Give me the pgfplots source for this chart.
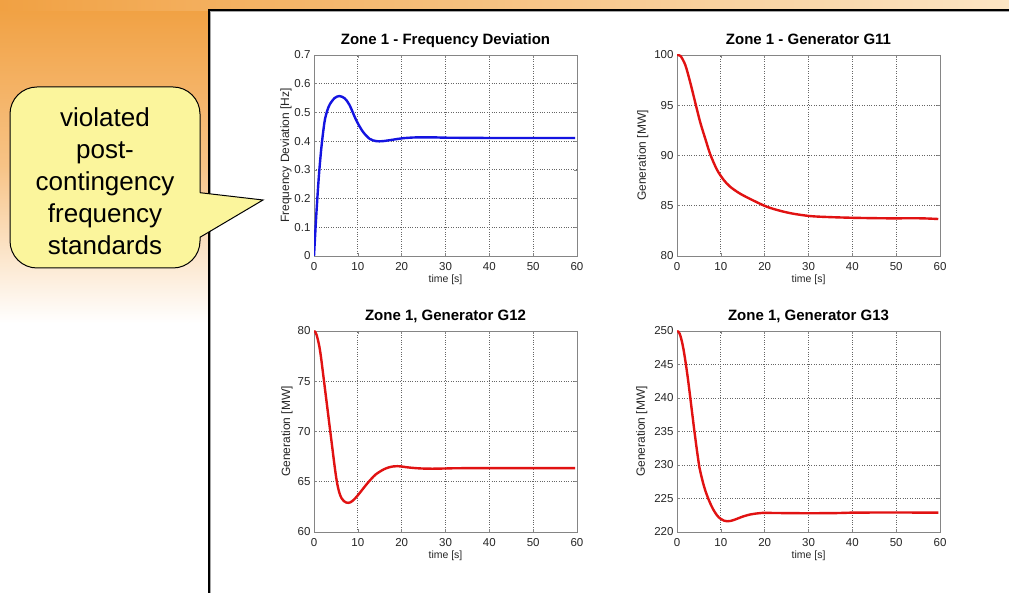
\documentclass[border=0pt]{standalone}
\usepackage{pgfplots}
\pgfplotsset{compat=1.18}
\usepackage{fontspec}
\setmainfont{Liberation Sans}
\definecolor{orA}{HTML}{F1A143}
\definecolor{orB}{HTML}{F7C386}
\definecolor{orR}{HTML}{FCE5C4}
\definecolor{callY}{HTML}{FBF59C}
\definecolor{mblue}{RGB}{20,20,225}
\definecolor{mred}{RGB}{225,18,18}
\definecolor{axgray}{HTML}{858585}

\pgfplotstableread{
t v
0 0
0.5 0.137
1.1 0.276
1.7 0.38
2.4 0.467
3.0 0.505
3.6 0.528
4.7 0.550
5.8 0.557
7.0 0.549
8.1 0.526
9.6 0.474
11.1 0.434
12.7 0.408
14.2 0.400
15.7 0.400
18.0 0.405
20.2 0.410
23.3 0.413
27.8 0.413
30 0.412
40 0.411
50 0.411
59.6 0.411
}\freqdata

\pgfplotstableread{
t v
0 100
0.8 99.9
1.9 99.0
3.0 97.3
4.2 95.2
5.3 93.3
6.5 91.6
7.6 90.1
9.1 88.6
10.6 87.6
12.1 86.9
14.4 86.2
17.5 85.5
20.5 84.9
23.5 84.5
26.6 84.2
30.4 83.97
34.2 83.88
40.2 83.8
47.8 83.75
55.4 83.75
59.6 83.68
}\gelevenData

\pgfplotstableread{
t v
0 80
0.3 79.9
0.6 79.6
0.9 79.1
1.2 78.5
1.5 77.7
1.8 76.7
2.2 75.3
2.6 73.9
3.0 72.5
3.4 71.1
3.8 69.7
4.2 68.3
4.6 66.9
5.0 65.6
5.3 64.8
5.6 64.2
5.9 63.75
6.3 63.35
6.8 63.08
7.3 62.94
7.8 62.9
8.3 62.95
8.8 63.1
9.4 63.35
10.0 63.65
11 64.2
12 64.75
13 65.25
14 65.7
15 66.0
16 66.25
17 66.42
18 66.52
19 66.55
20 66.52
21 66.45
22 66.4
24 66.33
26 66.3
28 66.3
30 66.32
35 66.35
59.6 66.35
}\gtwelveData

\pgfplotstableread{
t v
0 250
0.3 249.9
0.6 249.6
0.9 249.0
1.2 248.2
1.5 247.2
1.8 246.0
2.1 244.7
2.4 243.3
2.7 241.8
3.0 240.2
3.3 238.6
3.6 237.0
3.9 235.4
4.2 233.9
4.5 232.4
4.8 231.0
5.1 229.7
5.5 228.5
6.0 227.2
6.5 226.1
7.0 225.2
7.5 224.4
8.0 223.7
8.5 223.1
9.0 222.6
9.5 222.2
10.0 221.95
10.7 221.7
11.4 221.6
12.2 221.65
13 221.8
14 222.05
15 222.3
16 222.5
17 222.65
18 222.75
19 222.82
20 222.85
25 222.82
30 222.8
36 222.82
38 222.85
42 222.9
59.6 222.9
}\gthirteenData

\pgfplotsset{
  mstyle/.style={
    scale only axis, width=263pt, height=201pt,
    xmin=0, xmax=60, xtick={0,10,20,30,40,50,60},
    grid=major,
    major grid style={dotted, color=black!60, line width=0.7pt},
    axis line style={color=axgray, line width=0.8pt},
    tick style={color=axgray, line width=0.6pt},
    tick align=inside, major tick length=3pt,
    tick label style={font=\fontsize{11.5}{13}\selectfont, text=black!85},
    /pgf/number format/assume math mode=true,
    xticklabel style={anchor=base, yshift=-15pt, inner sep=0pt},
    title style={font=\bfseries\fontsize{15}{17}\selectfont, at={(axis description cs:0.5,1)}, anchor=base, yshift=4pt, inner sep=0pt},
    xlabel={time [s]},
    xlabel style={font=\fontsize{10.5}{12}\selectfont, at={(axis description cs:0.5,0)}, anchor=base, yshift=-27pt, inner sep=0pt, text=black!85},
    every axis plot/.append style={line width=2.4pt, smooth, no markers},
  },
}

\begin{document}
\begin{tikzpicture}
\useasboundingbox (0pt,0pt) rectangle (1009pt,593pt);
% background
\fill[white] (0pt,0pt) rectangle (1009pt,593pt);
\fill[top color=orA, bottom color=white, middle color=orB] (0pt,270pt) rectangle (209pt,585pt);
\fill[left color=orA, right color=orR] (0pt,582pt) rectangle (1009pt,593pt);
% panel
\fill[white] (209pt,0pt) rectangle (1009pt,583pt);
\draw[black, line width=1.3pt] (209pt,0pt) -- (209pt,583pt) -- (1009pt,583pt);
\draw[black!35, line width=0.8pt] (210.8pt,0pt) -- (210.8pt,581.2pt) -- (1009pt,581.2pt);

% callout
\draw[line width=1pt, fill=callY, rounded corners=27pt] (10pt,325pt) rectangle (200pt,506pt);
\fill[callY] (199pt,400.3pt) -- (263pt,393pt) -- (199pt,355.7pt) -- cycle;
\draw[line width=1pt, line join=miter] (200pt,400.3pt) -- (263pt,393pt) -- (200pt,355.7pt);
\begin{scope}[every node/.style={anchor=base, inner sep=0pt, font=\fontsize{26}{32}\selectfont}]
\node at (105pt,466.3pt) {violated};
\node at (105pt,434.3pt) {post-};
\node at (105pt,402.3pt) {contingency};
\node at (105pt,370.3pt) {frequency};
\node at (105pt,338.3pt) {standards};
\end{scope}

% plot 1
\begin{axis}[mstyle, at={(314pt,337pt)}, anchor=south west,
  ymin=0, ymax=0.7, ytick={0,0.1,0.2,0.3,0.4,0.5,0.6,0.7},
  title={Zone 1 - Frequency Deviation},
  ylabel={Frequency Deviation [Hz]},
  ylabel style={font=\fontsize{12}{14}\selectfont, at={(axis description cs:-0.095,0.5)}, anchor=base, inner sep=0pt, text=black!85},
  yticklabel style={/pgf/number format/fixed, /pgf/number format/precision=1}]
\addplot[mblue] table[x=t, y=v] {\freqdata};
\end{axis}

% plot 2
\begin{axis}[mstyle, at={(677pt,337pt)}, anchor=south west,
  ymin=80, ymax=100, ytick={80,85,90,95,100},
  title={Zone 1 - Generator G11},
  ylabel={Generation [MW]},
  ylabel style={font=\fontsize{12}{14}\selectfont, at={(axis description cs:-0.118,0.5)}, anchor=base, inner sep=0pt, text=black!85}]
\addplot[mred] table[x=t, y=v] {\gelevenData};
\end{axis}

% plot 3
\begin{axis}[mstyle, at={(314pt,61pt)}, anchor=south west,
  ymin=60, ymax=80, ytick={60,65,70,75,80},
  title={Zone 1, Generator G12},
  ylabel={Generation [MW]},
  ylabel style={font=\fontsize{12}{14}\selectfont, at={(axis description cs:-0.091,0.5)}, anchor=base, inner sep=0pt, text=black!85}]
\addplot[mred] table[x=t, y=v] {\gtwelveData};
\end{axis}

% plot 4
\begin{axis}[mstyle, at={(677pt,61pt)}, anchor=south west,
  ymin=220, ymax=250, ytick={220,225,230,235,240,245,250},
  title={Zone 1, Generator G13},
  ylabel={Generation [MW]},
  ylabel style={font=\fontsize{12}{14}\selectfont, at={(axis description cs:-0.122,0.5)}, anchor=base, inner sep=0pt, text=black!85}]
\addplot[mred] table[x=t, y=v] {\gthirteenData};
\end{axis}
\end{tikzpicture}
\end{document}
